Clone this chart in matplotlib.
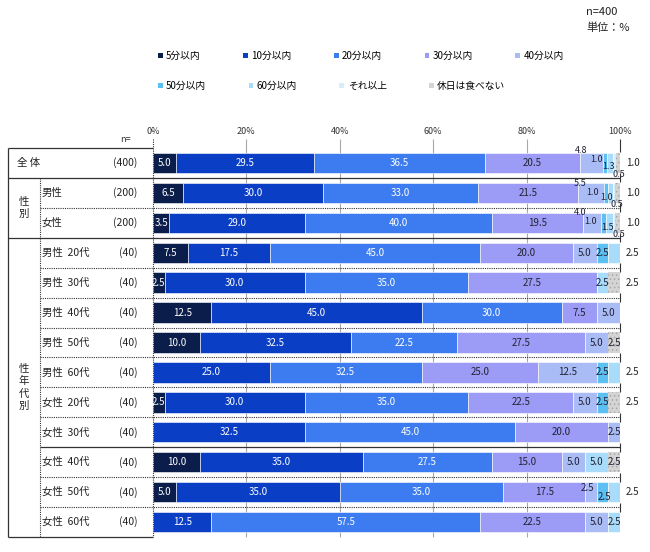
import matplotlib
matplotlib.use("Agg")
import matplotlib.pyplot as plt
from matplotlib.patches import Patch
import numpy as np

plt.rcParams["font.family"] = ["Noto Sans CJK JP", "DejaVu Sans"]
plt.rcParams["hatch.linewidth"] = 0.6

# ---- data -------------------------------------------------------------
categories = ["5分以内", "10分以内", "20分以内", "30分以内", "40分以内",
              "50分以内", "60分以内", "それ以上", "休日は食べない"]

row_labels = ["全 体", "男性", "女性",
              "男性  20代", "男性  30代", "男性  40代", "男性  50代", "男性  60代",
              "女性  20代", "女性  30代", "女性  40代", "女性  50代", "女性  60代"]
row_n = [400, 200, 200, 40, 40, 40, 40, 40, 40, 40, 40, 40, 40]

within5 = [5.0, 6.5, 3.5, 7.5, 2.5, 12.5, 10.0, 0, 2.5, 0, 10.0, 5.0, 0]
within10 = [29.5, 30.0, 29.0, 17.5, 30.0, 45.0, 32.5, 25.0, 30.0, 32.5, 35.0, 35.0, 12.5]
within20 = [36.5, 33.0, 40.0, 45.0, 35.0, 30.0, 22.5, 32.5, 35.0, 45.0, 27.5, 35.0, 57.5]
within30 = [20.5, 21.5, 19.5, 20.0, 27.5, 7.5, 27.5, 25.0, 22.5, 20.0, 15.0, 17.5, 22.5]
within40 = [4.8, 5.5, 4.0, 5.0, 0, 5.0, 5.0, 12.5, 5.0, 2.5, 5.0, 2.5, 5.0]
within50 = [1.0, 1.0, 1.0, 2.5, 0, 0, 0, 2.5, 2.5, 0, 0, 2.5, 0]
within60 = [1.3, 1.0, 1.5, 2.5, 2.5, 0, 0, 2.5, 0, 0, 5.0, 2.5, 2.5]
over60 = [0.5, 0.5, 0.5, 0, 0, 0, 0, 0, 0, 0, 0, 0, 0]
no_eat = [1.0, 1.0, 1.0, 0, 2.5, 0, 2.5, 0, 2.5, 0, 2.5, 0, 0]

series = [within5, within10, within20, within30, within40,
          within50, within60, over60, no_eat]

# ---- style ------------------------------------------------------------
colors = ["#0b1d4a", "#0a3ec4", "#3c7cf0", "#9c9cf6", "#a9bcf6",
          "#5cc0f2", "#a8dcfa", "#d6eefa", "#d4d4d4"]
text_colors = ["white", "white", "white"] + ["#222233"] * 6

# rows whose last segment is labelled to the right of the bar
outside_rows = [0, 1, 2, 3, 4, 7, 8, 11]
# nudges (dx in %, dy in rows) for crowded labels
shifts = {
    (0, 4): (-2.2, -0.42), (0, 5): (-1.9, -0.12), (0, 6): (-0.3, 0.12), (0, 7): (0.9, 0.38),
    (1, 4): (-2.4, -0.30), (1, 5): (-2.8, -0.02), (1, 6): (-0.9, 0.14), (1, 7): (0.6, 0.38),
    (2, 4): (-2.6, -0.33), (2, 5): (-2.9, -0.05), (2, 6): (-0.4, 0.15), (2, 7): (1.0, 0.38),
    (11, 4): (-0.8, -0.14), (11, 5): (0.5, 0.16),
}

fig = plt.figure(figsize=(6.5, 5.52), dpi=100)
ax = fig.add_axes([8 / 650, 1 - 537 / 552, 612 / 650, 389 / 552])
x_left = -145 / 467 * 100  # left edge of the label table in % units
x_inner = -113 / 467 * 100
ax.set_xlim(x_left, 100)
ax.set_ylim(13, 0)
for s in ax.spines.values():
    s.set_visible(False)
ax.set_yticks([])
ax.set_xticks(range(0, 101, 20))
ax.set_xticklabels([f"{v}%" for v in range(0, 101, 20)])
ax.xaxis.tick_top()
ax.tick_params(axis="x", length=0, pad=9, labelsize=6.5, labelcolor="#333333")

ypos = np.arange(len(row_labels)) + 0.5
left = np.zeros(len(row_labels))
for ci, vals in enumerate(series):
    vals = np.array(vals, dtype=float)
    if ci == 8:
        ax.barh(ypos, vals, left=left, height=0.68, color=colors[ci],
                edgecolor="#a8a8a8", linewidth=0, hatch="....", zorder=2)
    else:
        ax.barh(ypos, vals, left=left, height=0.68, color=colors[ci],
                edgecolor="white", linewidth=0.4, zorder=2)
    for ri, v in enumerate(vals):
        if v <= 0:
            continue
        is_last = all(series[k][ri] == 0 for k in range(ci + 1, len(series)))
        if is_last and ri in outside_rows:
            ax.text(101.3, ypos[ri], f"{v:.1f}", ha="left", va="center",
                    fontsize=7, color="#222222")
            continue
        dx, dy = shifts.get((ri, ci), (0, 0))
        fs = 6.5 if ri < 3 and (ri, ci) in shifts else 7
        ax.text(left[ri] + v / 2 + dx, ypos[ri] + dy, f"{v:.1f}",
                ha="center", va="center", fontsize=fs, color=text_colors[ci], zorder=4)
    left += vals

# gridlines
ax.vlines([20, 40, 60, 80], -0.3, 13, color="#a8a8a8", lw=0.8, zorder=0, clip_on=False)
ax.vlines(100, -0.3, 0.15, color="#333333", lw=0.8, clip_on=False)
ax.vlines(0, -0.3, 13, color="#333333", lw=0.8, linestyles=(0, (1, 1)), zorder=3, clip_on=False)
for b in range(1, 13):
    ax.vlines(100, b - 0.15, b + 0.15, color="#333333", lw=0.8, clip_on=False)

# table lines
line_kw = dict(color="#333333", lw=0.9, clip_on=False)
dot_kw = dict(color="#333333", lw=0.8, linestyles=(0, (1, 1)), clip_on=False)
ax.hlines(0, x_left, 0, **line_kw)
ax.hlines(13, x_left, 0, **line_kw)
ax.vlines(x_left, 0, 13, **line_kw)
ax.vlines(x_inner, 1, 13, **dot_kw)
ax.hlines([1, 3], x_left, 100, zorder=3, **line_kw)
ax.hlines(10, x_inner, 100, zorder=3, **line_kw)
ax.hlines([2, 4, 5, 6, 7, 8, 9, 11, 12], x_inner, 100, zorder=3, **dot_kw)

# table text
lbl_kw = dict(fontsize=7.5, color="#222222", va="center")
ax.text(x_left + 2.0, ypos[0], row_labels[0], ha="left", **lbl_kw)
for ri in range(1, len(row_labels)):
    ax.text(x_inner + 0.4, ypos[ri], row_labels[ri], ha="left", **lbl_kw)
for ri, n in enumerate(row_n):
    ax.text(-3.3, ypos[ri], f"({n})", ha="right", **lbl_kw)
ax.text((x_left + x_inner) / 2, 2.0, "性\n別", ha="center", linespacing=1.3, **lbl_kw)
ax.text((x_left + x_inner) / 2, 8.0, "性\n年\n代\n別", ha="center", linespacing=1.3, **lbl_kw)
ax.text(-6.0, -0.27, "n=", ha="center", fontsize=6.5, color="#333333", va="center")

# legend in two rows
handles = [Patch(facecolor=c, edgecolor="none") for c in colors]
leg_kw = dict(frameon=False, fontsize=7, handlelength=0.5, handleheight=0.5,
              handletextpad=0.35, borderpad=0, loc="upper left")
fig.legend(handles[:5], categories[:5], ncol=5, columnspacing=4.35,
           bbox_to_anchor=(153 / 650, 1 - 46 / 552), **leg_kw)
fig.legend(handles[5:], categories[5:], ncol=4, columnspacing=4.35,
           bbox_to_anchor=(153 / 650, 1 - 76 / 552), **leg_kw)

fig.text(586 / 650, 1 - 12 / 552, "n=400", fontsize=8, color="#222222", va="center")
fig.text(586 / 650, 1 - 28 / 552, "単位：%", fontsize=8, color="#222222", va="center")

fig.savefig("out.png", dpi=100, facecolor="white")
